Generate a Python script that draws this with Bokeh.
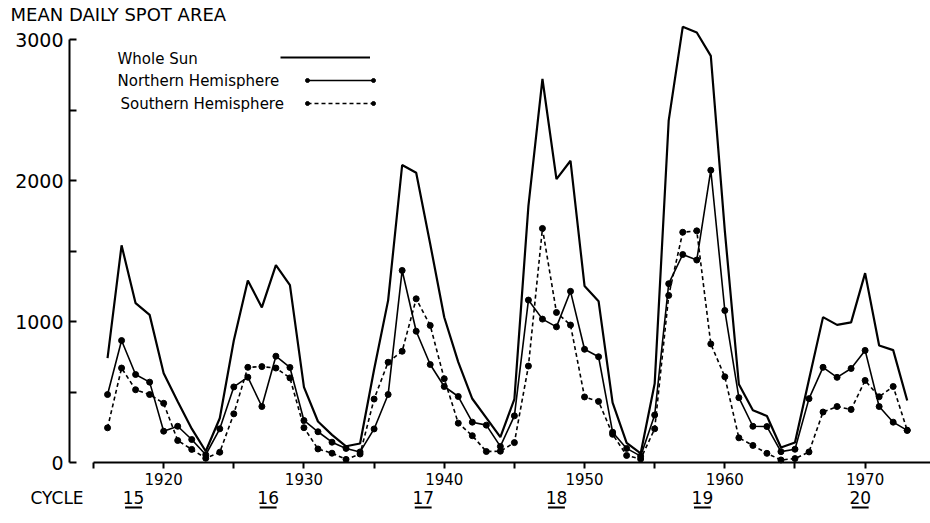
from bokeh.plotting import figure
from bokeh.models import (Range1d, FixedTicker, Label, Legend, LegendItem,
                          ColumnDataSource, BoxAnnotation)
from bokeh.embed import file_html
from bokeh.resources import INLINE

# ---------------- data ----------------
years = list(range(1916, 1974))
whole_sun = [740, 1540, 1130, 1047, 633, 433, 240, 80, 314, 865,
             1290, 1100, 1400, 1258, 535, 291, 196, 115, 135, 660,
             1150, 2110, 2055, 1550, 1030, 712, 452, 317, 180, 450,
             1820, 2720, 2010, 2140, 1252, 1144, 425, 140, 64, 560,
             2427, 3090, 3050, 2884, 1643, 555, 370, 330, 106, 142,
             588, 1031, 976, 994, 1343, 830, 797, 440]
northern = [482, 865, 624, 570, 222, 257, 163, 55, 239, 536,
            605, 397, 754, 674, 298, 218, 144, 100, 75, 238,
            482, 1362, 931, 695, 539, 468, 286, 265, 114, 331,
            1152, 1017, 962, 1214, 803, 750, 215, 100, 45, 337,
            1268, 1475, 1436, 2073, 1078, 460, 257, 255, 77, 94,
            453, 675, 604, 667, 795, 397, 286, 228]
southern = [246, 670, 516, 482, 420, 156, 93, 30, 73, 345,
            675, 680, 670, 600, 247, 96, 66, 22, 60, 450,
            711, 789, 1161, 972, 594, 279, 190, 78, 80, 141,
            684, 1660, 1064, 975, 465, 433, 200, 50, 25, 239,
            1185, 1633, 1643, 841, 608, 175, 121, 65, 18, 28,
            75, 358, 397, 376, 582, 466, 539, 228]

year_ticks = [1920, 1930, 1940, 1950, 1960, 1970]
year_minor_ticks = [1915, 1925, 1935, 1945, 1955, 1965]
area_ticks = [0, 1000, 2000, 3000]
area_minor_ticks = [500, 1500, 2500]
cycle_numbers = ["15", "16", "17", "18", "19", "20"]
cycle_years = [1917.85, 1927.45, 1938.5, 1948.0, 1958.4, 1969.65]
series_names = ["Whole Sun", "Northern Hemisphere", "Southern Hemisphere"]
y_title = "MEAN DAILY SPOT AREA"
cycle_title = "CYCLE"

FONT = "DejaVu Sans"
W, H = 930, 523

# axis placement (data units)
X_START, X_END = 1908.37, 1974.66
Y_START, Y_END = -432.6, 3276.6
Y_AXIS_AT = 1913.29
X_AXIS_FROM = 1915

# ---------------- figure ----------------
p = figure(width=W, height=H, output_backend="svg", toolbar_location=None,
           title=None,
           x_range=Range1d(X_START, X_END), y_range=Range1d(Y_START, Y_END),
           min_border_left=0, min_border_right=0, min_border_top=0,
           min_border_bottom=0)
p.background_fill_color = "white"
p.border_fill_color = "white"
p.outline_line_color = None
p.xgrid.visible = False
p.ygrid.visible = False

# x axis (drawn at y = 0)
xa = p.xaxis[0]
xa.fixed_location = 0
xa.ticker = FixedTicker(ticks=year_ticks, minor_ticks=year_minor_ticks)
xa.bounds = (X_AXIS_FROM, X_END)
xa.axis_line_width = 2
xa.axis_line_color = "black"
xa.major_tick_line_width = 2
xa.minor_tick_line_width = 2
xa.major_tick_line_color = "black"
xa.minor_tick_line_color = "black"
xa.major_tick_out = 6
xa.major_tick_in = 0
xa.minor_tick_out = 6
xa.minor_tick_in = 0
xa.major_label_standoff = 4
xa.major_label_text_font = FONT
xa.major_label_text_font_size = "15px"
xa.major_label_text_color = "black"

# y axis
ya = p.yaxis[0]
ya.fixed_location = Y_AXIS_AT
ya.ticker = FixedTicker(ticks=area_ticks, minor_ticks=area_minor_ticks)
ya.bounds = (0, 3000)
ya.axis_line_width = 2
ya.axis_line_color = "black"
ya.major_tick_line_width = 2
ya.minor_tick_line_width = 2
ya.major_tick_line_color = "black"
ya.minor_tick_line_color = "black"
ya.major_tick_in = 7
ya.major_tick_out = 0
ya.minor_tick_in = 7
ya.minor_tick_out = 0
ya.major_label_standoff = 6
ya.major_label_text_font = FONT
ya.major_label_text_font_size = "19px"
ya.major_label_text_color = "black"

# ---------------- series ----------------
src = ColumnDataSource(dict(year=years, whole=whole_sun, north=northern, south=southern))
r_whole = p.line("year", "whole", source=src, line_color="black", line_width=2.2)
r_north = p.line("year", "north", source=src, line_color="black", line_width=1.6)
r_north_pts = p.scatter("year", "north", source=src, size=6, color="black")
r_south = p.line("year", "south", source=src, line_color="black", line_width=1.6,
                 line_dash="4 3")
r_south_pts = p.scatter("year", "south", source=src, size=6, color="black")

# ---------------- legend (text left, samples right) ----------------
def sample_legend(items, loc, gw):
    lg = Legend(items=items, location=loc, orientation="vertical",
                glyph_width=gw, glyph_height=20, label_width=0, label_height=20,
                label_standoff=0, spacing=3, padding=0, margin=0,
                border_line_color=None, background_fill_alpha=0,
                label_text_font_size="1px")
    p.add_layout(lg, "center")

sample_legend([LegendItem(label=" ", renderers=[r_whole])], (280, H - 67), 90)
sample_legend([LegendItem(label=" ", renderers=[r_north]),
               LegendItem(label=" ", renderers=[r_south])], (307, H - 113), 66)
sample_legend([LegendItem(label=" ", renderers=[r_north_pts]),
               LegendItem(label=" ", renderers=[r_south_pts])], (302, H - 113), 10)
sample_legend([LegendItem(label=" ", renderers=[r_north_pts]),
               LegendItem(label=" ", renderers=[r_south_pts])], (368, H - 113), 10)

for name, lx, ly in zip(series_names, [117, 117, 120], [58, 80, 103]):
    p.add_layout(Label(x=lx, y=H - ly, x_units="screen", y_units="screen", text=name,
                       text_font=FONT, text_font_size="15px", text_color="black",
                       text_baseline="middle", text_align="left"))

# titles
p.add_layout(Label(x=10, y=H - 14, x_units="screen", y_units="screen", text=y_title,
                   text_font=FONT, text_font_size="18px", text_color="black",
                   text_baseline="middle", text_align="left"))
p.add_layout(Label(x=30, y=H - 497, x_units="screen", y_units="screen", text=cycle_title,
                   text_font=FONT, text_font_size="17px", text_color="black",
                   text_baseline="middle", text_align="left"))
for num, cx in zip(cycle_numbers, cycle_years):
    p.add_layout(Label(x=cx, y=H - 497, x_units="data", y_units="screen", text=num,
                       text_font=FONT, text_font_size="17px", text_color="black",
                       text_baseline="middle", text_align="center"))
    p.add_layout(BoxAnnotation(left=cx - 0.6, right=cx + 0.6,
                               top=H - 506, bottom=H - 508,
                               left_units="data", right_units="data",
                               top_units="screen", bottom_units="screen",
                               fill_color="black", fill_alpha=1, line_color=None))

open("out.html", "w").write(file_html(p, INLINE))
